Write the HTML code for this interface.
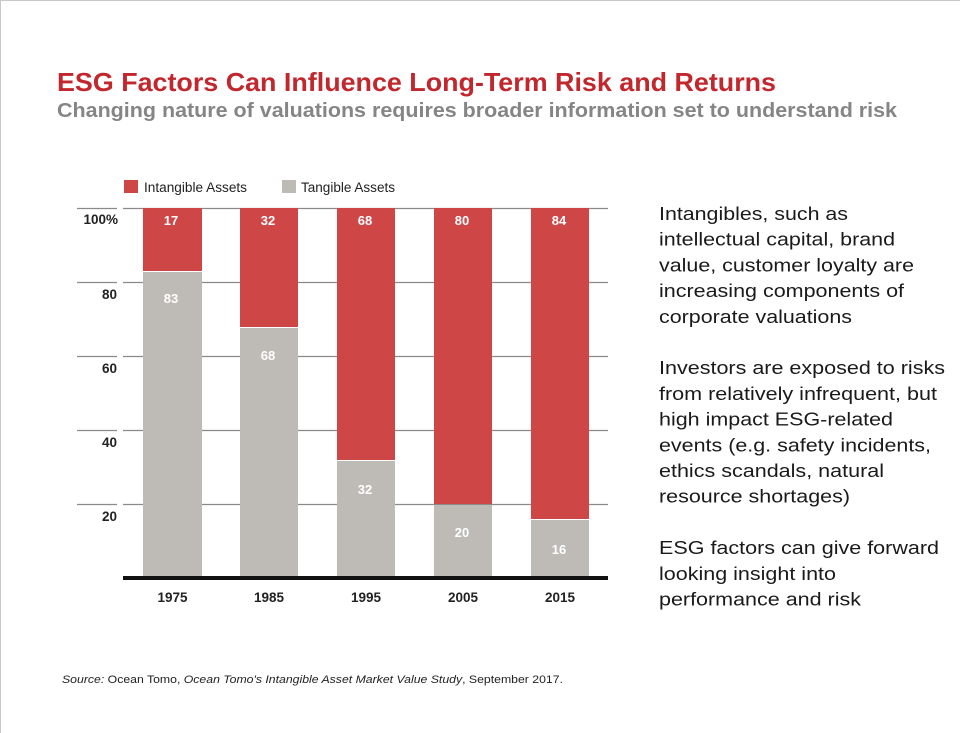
<!DOCTYPE html>
<html><head><meta charset="utf-8"><style>
html,body{margin:0;padding:0;background:#fff;}
svg{display:block;}
</style></head><body>
<svg width="960" height="733" viewBox="0 0 960 733" xmlns="http://www.w3.org/2000/svg" font-family="Liberation Sans, Arial, sans-serif">
<rect x="0" y="0" width="960" height="733" fill="#fff"/>
<line x1="0" y1="0.5" x2="960" y2="0.5" stroke="#c8c8c8" stroke-width="1"/>
<line x1="0.5" y1="0" x2="0.5" y2="733" stroke="#c8c8c8" stroke-width="1"/>

<text x="57" y="91" font-size="26" font-weight="bold" fill="#c1272d" textLength="719" lengthAdjust="spacingAndGlyphs">ESG Factors Can Influence Long-Term Risk and Returns</text>
<text x="57" y="117" font-size="20" font-weight="bold" fill="#858585" textLength="840" lengthAdjust="spacingAndGlyphs">Changing nature of valuations requires broader information set to understand risk</text>

<!-- legend -->
<rect x="124" y="180" width="14" height="13" fill="#cf4646"/>
<text x="144" y="192" font-size="13.5" fill="#222" textLength="103" lengthAdjust="spacingAndGlyphs">Intangible Assets</text>
<rect x="282" y="180" width="14" height="13" fill="#bebbb6"/>
<text x="301" y="192" font-size="13.5" fill="#222" textLength="94" lengthAdjust="spacingAndGlyphs">Tangible Assets</text>

<!-- gridlines -->
<g stroke="#8a8a8a" stroke-width="1.3">
<line x1="77" y1="208.5" x2="117" y2="208.5"/><line x1="123" y1="208.5" x2="608" y2="208.5"/>
<line x1="77" y1="282.5" x2="117" y2="282.5"/><line x1="123" y1="282.5" x2="608" y2="282.5"/>
<line x1="77" y1="356.5" x2="117" y2="356.5"/><line x1="123" y1="356.5" x2="608" y2="356.5"/>
<line x1="77" y1="430.5" x2="117" y2="430.5"/><line x1="123" y1="430.5" x2="608" y2="430.5"/>
<line x1="77" y1="504.5" x2="117" y2="504.5"/><line x1="123" y1="504.5" x2="608" y2="504.5"/>
</g>

<!-- y labels -->
<g font-size="13.5" font-weight="bold" fill="#222" text-anchor="end">
<text x="118" y="224">100%</text>
<text x="117" y="299">80</text>
<text x="117" y="373">60</text>
<text x="117" y="447">40</text>
<text x="117" y="521">20</text>
</g>

<!-- bars -->
<g>
<rect x="143" y="208" width="59" height="63" fill="#cf4646"/>
<rect x="143" y="272" width="59" height="306" fill="#bebbb6"/>
<rect x="240" y="208" width="58" height="119" fill="#cf4646"/>
<rect x="240" y="328" width="58" height="250" fill="#bebbb6"/>
<rect x="337" y="208" width="58" height="252" fill="#cf4646"/>
<rect x="337" y="461" width="58" height="117" fill="#bebbb6"/>
<rect x="434" y="208" width="58" height="296" fill="#cf4646"/>
<rect x="434" y="505" width="58" height="73" fill="#bebbb6"/>
<rect x="531" y="208" width="58" height="311" fill="#cf4646"/>
<rect x="531" y="520" width="58" height="58" fill="#bebbb6"/>
</g>

<!-- bar labels -->
<g font-size="13" font-weight="bold" fill="#fff" text-anchor="middle">
<text x="171" y="225">17</text>
<text x="268" y="225">32</text>
<text x="365" y="225">68</text>
<text x="462" y="225">80</text>
<text x="559" y="225">84</text>
<text x="171" y="303">83</text>
<text x="268" y="360">68</text>
<text x="365" y="494">32</text>
<text x="462" y="537">20</text>
<text x="559" y="554">16</text>
</g>

<!-- baseline -->
<rect x="123" y="576" width="485" height="4" fill="#111"/>

<!-- x labels -->
<g font-size="13.5" font-weight="bold" fill="#222" text-anchor="middle">
<text x="172.5" y="602">1975</text>
<text x="269" y="602">1985</text>
<text x="366" y="602">1995</text>
<text x="463" y="602">2005</text>
<text x="560" y="602">2015</text>
</g>

<!-- right text -->
<g font-size="18" fill="#1a1a1a">
<text x="659" y="220" textLength="189" lengthAdjust="spacingAndGlyphs">Intangibles, such as</text>
<text x="659" y="245.7" textLength="236" lengthAdjust="spacingAndGlyphs">intellectual capital, brand</text>
<text x="659" y="271.4" textLength="255" lengthAdjust="spacingAndGlyphs">value, customer loyalty are</text>
<text x="659" y="297.1" textLength="245" lengthAdjust="spacingAndGlyphs">increasing components of</text>
<text x="659" y="322.8" textLength="193" lengthAdjust="spacingAndGlyphs">corporate valuations</text>
<text x="659" y="374.2" textLength="286" lengthAdjust="spacingAndGlyphs">Investors are exposed to risks</text>
<text x="659" y="399.9" textLength="278" lengthAdjust="spacingAndGlyphs">from relatively infrequent, but</text>
<text x="659" y="425.6" textLength="234" lengthAdjust="spacingAndGlyphs">high impact ESG-related</text>
<text x="659" y="451.3" textLength="272" lengthAdjust="spacingAndGlyphs">events (e.g. safety incidents,</text>
<text x="659" y="477" textLength="225" lengthAdjust="spacingAndGlyphs">ethics scandals, natural</text>
<text x="659" y="502.7" textLength="191" lengthAdjust="spacingAndGlyphs">resource shortages)</text>
<text x="659" y="554.1" textLength="280" lengthAdjust="spacingAndGlyphs">ESG factors can give forward</text>
<text x="659" y="579.8" textLength="177" lengthAdjust="spacingAndGlyphs">looking insight into</text>
<text x="659" y="605.5" textLength="202" lengthAdjust="spacingAndGlyphs">performance and risk</text>
</g>

<!-- source -->
<text x="62" y="683" font-size="11" fill="#222" textLength="501" lengthAdjust="spacingAndGlyphs"><tspan font-style="italic">Source:</tspan> Ocean Tomo, <tspan font-style="italic">Ocean Tomo's Intangible Asset Market Value Study</tspan>, September 2017.</text>
</svg>
</body></html>
